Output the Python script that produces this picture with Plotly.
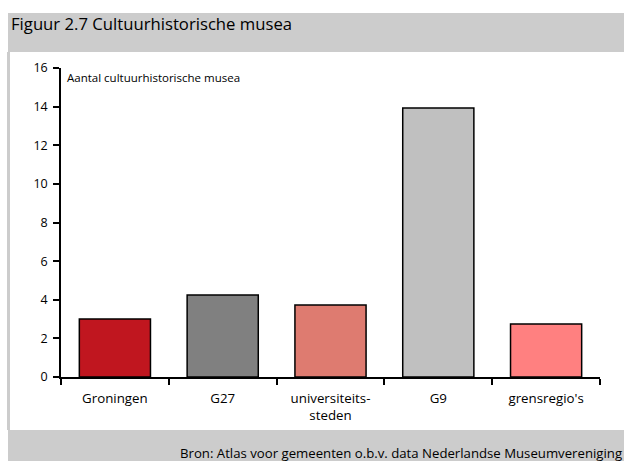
import plotly.graph_objects as go

categories = ["Groningen", "G27", "universiteits-<br>steden", "G9", "grensregio's"]
values = [3.0, 4.25, 3.73, 13.93, 2.74]
colors = ["#c0161f", "#808080", "#de7b70", "#c0c0c0", "#ff8080"]
y_ticks = [0, 2, 4, 6, 8, 10, 12, 14, 16]

title_text = "Figuur 2.7 Cultuurhistorische musea"
ylabel_text = "Aantal cultuurhistorische musea"
source_text = "Bron: Atlas voor gemeenten o.b.v. data Nederlandse Museumvereniging"

W, H = 624, 461
L, R, T, B = 61, 24, 68, 84
pw, ph = W - L - R, H - T - B

def px(x):
    return (x - L) / pw

def py(y):
    return (H - B - y) / ph

FONT = "Open Sans, Noto Sans, DejaVu Sans, sans-serif"

fig = go.Figure(go.Bar(
    x=categories, y=values,
    marker=dict(color=colors, line=dict(color="black", width=1.5)),
    width=0.66,
))

shapes = [
    dict(type="rect", xref="paper", yref="paper", x0=px(8), x1=px(630), y0=py(13), y1=py(52),
         fillcolor="#cccccc", line=dict(width=0), layer="below"),
    dict(type="rect", xref="paper", yref="paper", x0=px(8), x1=px(630), y0=py(430), y1=py(470),
         fillcolor="#cccccc", line=dict(width=0), layer="below"),
    dict(type="rect", xref="paper", yref="paper", x0=px(7), x1=px(10), y0=py(52), y1=py(430),
         fillcolor="#cccccc", line=dict(width=0), layer="below"),
]

annotations = [
    dict(text=title_text, xref="paper", yref="paper", x=px(9), y=py(23), xanchor="left", yanchor="middle",
         showarrow=False, font=dict(family=FONT, size=16.7, color="black")),
    dict(text=ylabel_text, xref="paper", yref="paper", x=px(65), y=py(77), xanchor="left", yanchor="middle",
         showarrow=False, font=dict(family=FONT, size=11.5, color="black")),
    dict(text=source_text, xref="paper", yref="paper", x=px(624), y=py(453), xanchor="right", yanchor="middle",
         showarrow=False, font=dict(family=FONT, size=13.2, color="black")),
]

fig.update_layout(
    width=W, height=H,
    margin=dict(l=L, r=R, t=T, b=B),
    paper_bgcolor="white", plot_bgcolor="white",
    showlegend=False,
    shapes=shapes, annotations=annotations,
    font=dict(family=FONT, size=12, color="black"),
    xaxis=dict(showline=True, linecolor="black", linewidth=1.5, ticks="outside", tickson="boundaries",
               ticklen=6, tickcolor="black", tickwidth=1.5, showgrid=False, ticklabelstandoff=8,
               tickfont=dict(family=FONT, size=13.3)),
    yaxis=dict(range=[0, 16], tickvals=y_ticks, showline=True, linecolor="black", linewidth=1.5,
               ticks="outside", ticklen=6, tickcolor="black", tickwidth=1.5, showgrid=False, zeroline=False,
               ticklabelstandoff=3, tickfont=dict(family=FONT, size=12.5)),
)

fig.write_html(
    "out.html",
    config={"displayModeBar": False},
    post_script="document.body.style.margin='0';document.body.style.overflow='hidden';",
)
